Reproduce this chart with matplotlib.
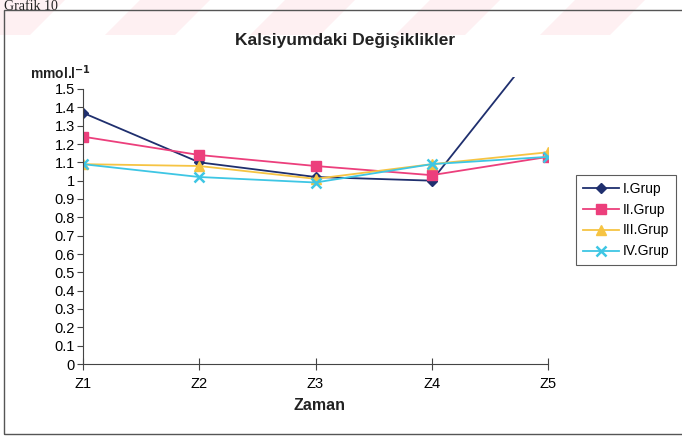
import matplotlib
matplotlib.use("Agg")
import matplotlib.pyplot as plt
from matplotlib.patches import Rectangle, Polygon

categories = ["Z1", "Z2", "Z3", "Z4", "Z5"]
grup1 = [1.37, 1.10, 1.02, 1.00, 1.80]
grup2 = [1.24, 1.14, 1.08, 1.03, 1.13]
grup3 = [1.09, 1.08, 1.01, 1.09, 1.155]
grup4 = [1.09, 1.02, 0.99, 1.09, 1.13]
series_names = ["I.Grup", "II.Grup", "III.Grup", "IV.Grup"]
yticks = [0, 0.1, 0.2, 0.3, 0.4, 0.5, 0.6, 0.7, 0.8, 0.9, 1, 1.1, 1.2, 1.3, 1.4, 1.5]

plt.rcParams['font.family'] = ['Liberation Sans', 'DejaVu Sans']

W, H = 682, 438
fig = plt.figure(figsize=(W/100, H/100), dpi=100)

# faint watermark stripes in the top band (scan artefact)
for sx in range(-40, 720, 145):
    pts = [((sx)/W, 1-35/H), ((sx+70)/W, 1-35/H), ((sx+105)/W, 1.0), ((sx+35)/W, 1.0)]
    fig.patches.append(Polygon(pts, closed=True, transform=fig.transFigure,
                               facecolor="#FEF0F2", edgecolor="none", zorder=0))

# outer frame
fig.patches.append(Rectangle((4/W, 1-434/H), 700/W, (434-10)/H, transform=fig.transFigure,
                             fill=False, edgecolor="#555555", linewidth=1.0))
fig.text(4/W, 1-0.5/H, "Grafik 10", family="Liberation Serif", fontsize=10, va="top", ha="left", color="#222222")

x0, x1 = 83, 548
y0, ytop = 364, 77
ax = fig.add_axes([x0/W, 1-y0/H, (x1-x0)/W, (y0-ytop)/H])
ymax = 1.5 * (y0 - ytop) / (364 - 89)

styles = [
    dict(color="#1F2F6E", marker="D", markersize=5),
    dict(color="#EC3F7C", marker="s", markersize=6.5),
    dict(color="#F6C443", marker="^", markersize=6.5),
    dict(color="#3EC6E4", marker="x", markersize=6.5, markeredgewidth=1.8),
]
xs = list(range(len(categories)))
for name, vals, st in zip(series_names, [grup1, grup2, grup3, grup4], styles):
    ax.plot(xs, vals, label=name, linewidth=1.3, clip_on=True, **st)

ax.set_xlim(0, 4)
ax.set_ylim(0, ymax)
ax.set_yticks(yticks)
ax.set_yticklabels([("%g" % v) for v in yticks], fontsize=10.5)
ax.set_xticks(xs)
ax.set_xticklabels(categories, fontsize=10.5)
for s in ["top", "right"]:
    ax.spines[s].set_visible(False)
ax.spines["left"].set_bounds(0, 1.5)
ax.spines["left"].set_color("#444444")
ax.spines["bottom"].set_color("#444444")
ax.tick_params(axis="y", direction="out", length=4, color="#444444", pad=2)
ax.tick_params(axis="x", direction="inout", length=8, color="#444444", pad=5)
ax.patch.set_alpha(0)

fig.text(345/W, 1-40/H, "Kalsiyumdaki Değişiklikler", fontsize=12.5, fontweight="bold", ha="center", va="center", color="#222222")
fig.text(30/W, 1-73/H, "mmol.l$^{\\mathbf{-1}}$", fontsize=10, fontweight="bold", ha="left", va="center", color="#222222")
fig.text(319/W, 1-406/H, "Zaman", fontsize=11.5, fontweight="bold", ha="center", va="center", color="#222222")

leg = fig.legend(loc="center", bbox_to_anchor=(626/W, 1-220/H), fontsize=10, frameon=True,
                 fancybox=False, edgecolor="#333333", handlelength=2.6, borderpad=0.45,
                 labelspacing=0.5, handletextpad=0.3)
leg.get_frame().set_linewidth(0.8)

fig.savefig("out.png", dpi=100)
